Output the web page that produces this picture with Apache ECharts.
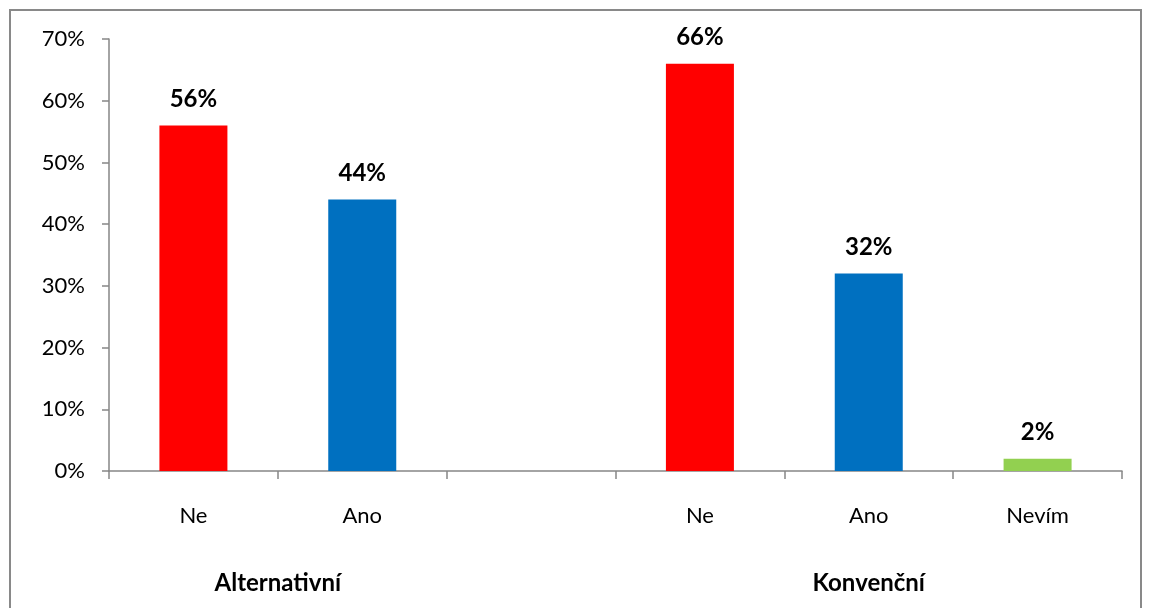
<!DOCTYPE html>
<html>
<head>
<meta charset="utf-8">
<script src="https://cdn.jsdelivr.net/npm/echarts@6/dist/echarts.min.js"></script>
<style>
html,body{margin:0;padding:0;background:#fff;}
#c{width:1151px;height:608px;}
</style>
</head>
<body>
<div id="c"></div>
<script>
const categories = ['Ne', 'Ano', '', 'Ne', 'Ano', 'Nevím'];
const values = [56, 44, null, 66, 32, 2];
const groupNames = ['Alternativní', 'Konvenční'];
const groupStart = [0, 3];   // first category index of each group
const groupEnd = [2, 6];     // one past the last category index of each group
const yTicks = [0, 10, 20, 30, 40, 50, 60, 70];

const colorByName = { 'Ne': '#FF0000', 'Ano': '#0070C0', 'Nevím': '#92D050' };
const FONT = 'Lato';

const groupCenters = groupNames.map((n, i) => (groupStart[i] + groupEnd[i]) / 2);
const labelAt = {};
groupNames.forEach((n, i) => { labelAt[String(groupCenters[i])] = n; });

const chart = echarts.init(document.getElementById('c'), null, { renderer: 'canvas' });
chart.setOption({
  animation: false,
  backgroundColor: '#fff',
  textStyle: { fontFamily: FONT },
  grid: { left: 109, right: 29, top: 39, bottom: 137, containLabel: false },
  xAxis: [{
    type: 'category',
    data: categories,
    axisLine: { lineStyle: { color: '#868686', width: 1.5 } },
    axisTick: { show: true, length: 8, lineStyle: { color: '#868686', width: 1.5 } },
    axisLabel: { color: '#000', fontSize: 22, fontFamily: FONT, margin: 34 }
  }, {
    type: 'value',
    position: 'bottom',
    min: 0, max: categories.length, interval: 0.5,
    offset: 0,
    axisLine: { show: false },
    axisTick: { show: false },
    splitLine: { show: false },
    axisLabel: {
      color: '#000', fontSize: 24, fontWeight: 'bold', fontFamily: FONT, margin: 100,
      showMinLabel: true, showMaxLabel: true,
      formatter: v => labelAt[String(v)] || ''
    }
  }],
  yAxis: {
    type: 'value',
    min: yTicks[0], max: yTicks[yTicks.length - 1], interval: 10,
    axisLine: { show: true, lineStyle: { color: '#868686', width: 1.5 } },
    axisTick: { show: true, length: 7, lineStyle: { color: '#868686', width: 1.5 } },
    splitLine: { show: false },
    axisLabel: { color: '#000', fontSize: 22, fontFamily: FONT, margin: 24, formatter: '{value}%' }
  },
  series: [{
    type: 'bar',
    xAxisIndex: 0,
    data: values,
    barWidth: 68,
    itemStyle: { color: p => colorByName[p.name] || '#999' },
    label: {
      show: true, position: 'top', distance: 14,
      color: '#000', fontSize: 24, fontWeight: 'bold', fontFamily: FONT,
      formatter: p => p.value == null ? '' : p.value + '%'
    }
  }],
  graphic: [{
    type: 'rect',
    shape: { x: 10, y: 10, width: 1131, height: 620 },
    style: { fill: 'none', stroke: '#898989', lineWidth: 2 },
    silent: true
  }]
});
</script>
</body>
</html>
